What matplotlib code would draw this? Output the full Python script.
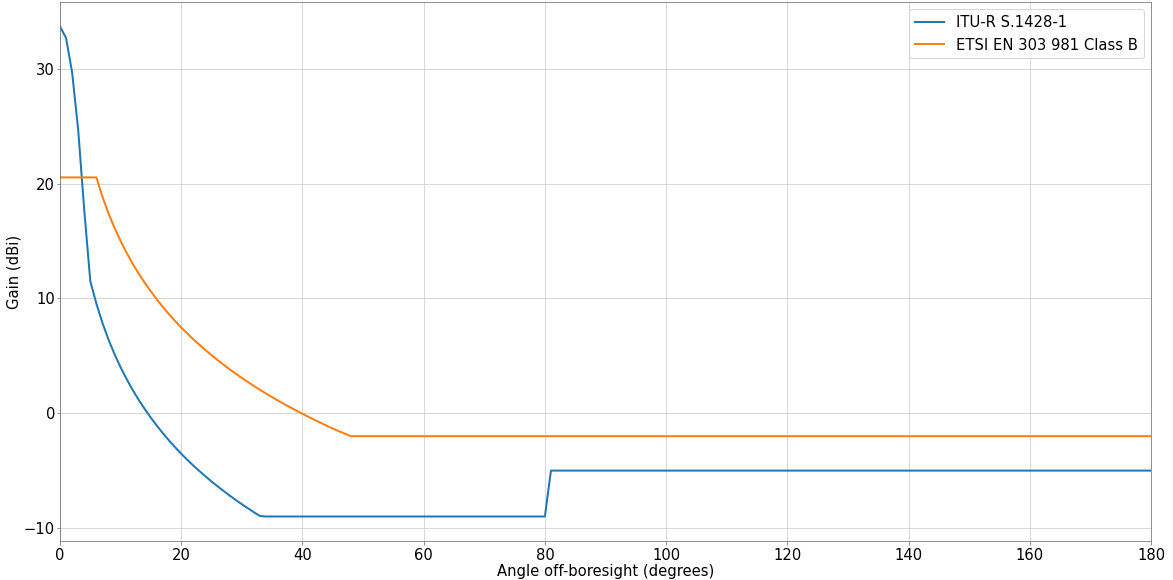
import matplotlib
matplotlib.use("Agg")
import matplotlib.pyplot as plt

# ITU-R S.1428-1 reference pattern
itu_angle = [0, 1, 2, 3, 4, 5, 6, 7, 8, 9, 10, 11, 12, 13, 14, 15, 16, 17, 18,
             19, 20, 21, 22, 23, 24, 25, 26, 27, 28, 29, 30, 31, 32, 33, 34,
             80, 81, 180]
itu_gain = [33.7, 32.7, 29.7, 24.7, 17.7, 11.5, 9.55, 7.87, 6.42, 5.14, 4.0,
            2.97, 2.02, 1.15, 0.35, -0.4, -1.1, -1.76, -2.38, -2.97, -3.53,
            -4.06, -4.56, -5.04, -5.5, -5.95, -6.37, -6.78, -7.18, -7.56,
            -7.93, -8.28, -8.63, -8.96, -9.0, -9.0, -5.0, -5.0]

# ETSI EN 303 981 Class B mask
etsi_angle = [0, 6, 7, 8, 9, 10, 11, 12, 13, 14, 15, 16, 17, 18, 19, 20, 22,
              24, 26, 28, 30, 32, 34, 36, 38, 40, 42, 44, 46, 48, 180]
etsi_gain = [20.55, 20.55, 18.87, 17.42, 16.14, 15.0, 13.97, 13.02, 12.15,
             11.35, 10.6, 9.9, 9.24, 8.62, 8.03, 7.47, 6.44, 5.5, 4.63, 3.82,
             3.07, 2.37, 1.71, 1.09, 0.51, -0.05, -0.58, -1.09, -1.57, -2.0,
             -2.0]

plt.rcParams['font.size'] = 14.7
plt.rcParams['font.family'] = 'DejaVu Sans'

fig, ax = plt.subplots(figsize=(1173 / 72, 580 / 72), dpi=72)
fig.subplots_adjust(left=60 / 1173, right=1151 / 1173, top=1 - 2 / 580, bottom=1 - 541 / 580)

ax.plot(itu_angle, itu_gain, linewidth=2, label='ITU-R S.1428-1')
ax.plot(etsi_angle, etsi_gain, linewidth=2, label='ETSI EN 303 981 Class B')

ax.set_xlim(0, 180)
ax.set_xlabel('Angle off-boresight (degrees)', labelpad=1)
ax.set_ylabel('Gain (dBi)', labelpad=2)
ax.grid(True, color='#cfcfcf')
for s in ax.spines.values():
    s.set_color('#777777')
ax.tick_params(color='#777777')
ax.tick_params(axis='y', pad=1.5)
ax.legend(loc='upper right')

fig.savefig('out.png', dpi=72)
